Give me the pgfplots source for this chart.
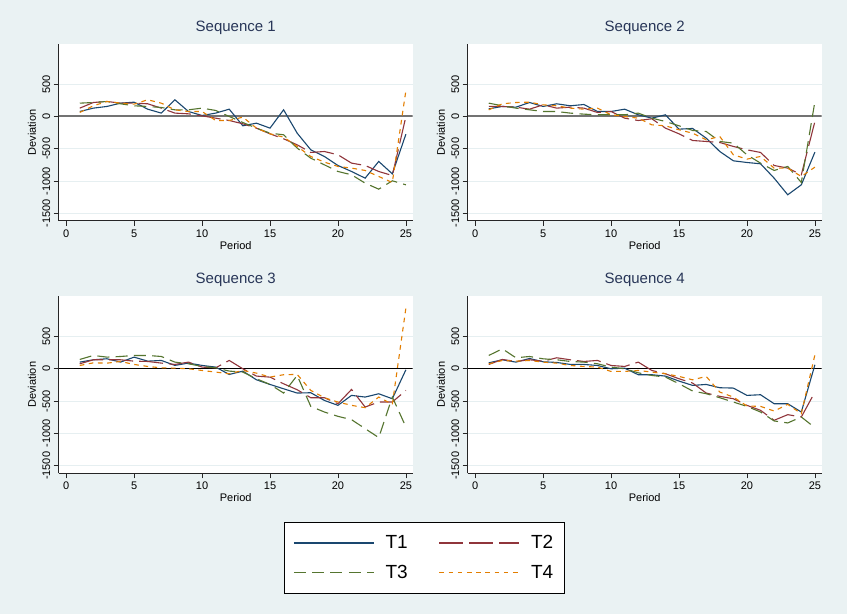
\documentclass[border=0pt]{standalone}
\usepackage{fontspec}
\setmainfont{Liberation Sans}
\usepackage{pgfplots}
\usepackage{pgfplotstable}
\pgfplotsset{compat=1.18}
\definecolor{bg}{HTML}{EAF2F3}
\definecolor{gridc}{HTML}{E6EFF1}
\definecolor{titlec}{HTML}{283658}
\definecolor{cT1}{HTML}{1A476F}
\definecolor{cT2}{HTML}{90353B}
\definecolor{cT3}{HTML}{55752F}
\definecolor{cT4}{HTML}{E37E00}

\pgfplotstableread{
p t1 t2 t3 t4
1 77 129 206 62
2 129 216 216 165
3 155 232 232 232
4 206 206 196 206
5 221 206 165 191
6 113 196 155 258
7 52 129 139 206
8 258 52 103 103
9 77 41 103 77
10 15 10 129 77
11 52 -26 93 -62
12 113 -62 0 -62
13 -144 -113 -93 -10
14 -103 -180 -180 -180
15 -180 -268 -258 -268
16 103 -345 -283 -319
17 -258 -438 -489 -463
18 -515 -556 -644 -618
19 -618 -541 -747 -705
20 -757 -592 -850 -772
21 -850 -721 -901 -798
22 -953 -757 -1030 -834
23 -695 -850 -1123 -927
24 -886 -912 -994 -1020
25 -273 0 -1056 402
}\seqA

\pgfplotstableread{
p t1 t2 t3 t4
1 118 155 206 103
2 155 155 165 196
3 144 144 129 216
4 216 113 103 221
5 155 180 77 180
6 196 129 77 165
7 165 144 52 129
8 185 129 36 113
9 77 62 26 129
10 77 77 26 26
11 113 -26 26 0
12 26 -62 52 -26
13 -26 -36 -26 -129
14 26 -180 -77 -144
15 -196 -268 -144 -206
16 -185 -371 -216 -258
17 -335 -386 -232 -360
18 -541 -402 -386 -309
19 -685 -463 -412 -592
20 -711 -515 -592 -659
21 -731 -556 -721 -618
22 -953 -757 -834 -798
23 -1210 -798 -772 -798
24 -1056 -901 -1020 -927
25 -551 -77 232 -783
}\seqB

\pgfplotstableread{
p t1 t2 t3 t4
1 103 77 144 51
2 139 139 206 92
3 155 139 180 87
4 103 139 190 113
5 180 118 206 67
6 118 113 206 36
7 129 88 190 15
8 52 67 103 10
9 88 103 77 0
10 52 26 36 -26
11 26 15 15 -51
12 -88 129 -36 -77
13 -36 0 -51 -26
14 -170 -113 -154 -67
15 -242 -129 -242 -128
16 -309 -232 -375 -92
17 -375 -324 -103 -87
18 -370 -447 -581 -334
19 -489 -447 -668 -447
20 -565 -540 -735 -514
21 -411 -319 -786 -565
22 -437 -591 -925 -601
23 -386 -514 -1063 -437
24 -463 -514 -437 -550
25 -15 -334 -899 940
}\seqC

\pgfplotstableread{
p t1 t2 t3 t4
1 92 67 206 77
2 139 144 308 128
3 103 113 170 118
4 159 139 190 128
5 108 118 154 103
6 98 170 139 87
7 67 139 113 51
8 67 113 103 36
9 51 129 77 26
10 0 51 26 -41
11 10 36 0 -41
12 -92 103 -62 -26
13 -92 -26 -103 -51
14 -113 -77 -128 -77
15 -190 -154 -231 -118
16 -257 -221 -344 -170
17 -242 -375 -385 -118
18 -293 -426 -447 -360
19 -298 -463 -514 -437
20 -411 -565 -581 -575
21 -401 -642 -668 -581
22 -540 -796 -806 -653
23 -540 -709 -837 -550
24 -668 -745 -745 -694
25 62 -360 -910 216
}\seqD

\pgfplotsset{
  seqaxis/.style={
    width=354pt, height=177pt, scale only axis,
    xmin=-0.55, xmax=25.5, ymin=-1615, ymax=1120,
    axis x line*=bottom, axis y line*=left,
    xtick={0,5,...,25}, ytick={-1500,-1000,-500,0,500},
    tick align=outside, major tick length=5pt,
    ymajorgrids, grid style={color=gridc, line width=1pt},
    axis line style={color=black!85, line width=1pt},
    every tick/.style={color=black!85, line width=0.8pt},
    ticklabel style={font=\fontsize{11}{11}\selectfont},
    yticklabel style={rotate=90, anchor=south},
    /pgf/number format/assume math mode=true,
    /pgf/number format/set thousands separator={},
    xlabel={Period}, ylabel={Deviation},
    label style={font=\fontsize{11}{11}\selectfont},
    xlabel style={at={(axis description cs:0.5,-0.1395)}, anchor=center},
    ylabel style={at={(axis description cs:-0.0754,0.5)}, anchor=center},
    title style={font=\fontsize{15}{15}\selectfont, color=titlec, at={(0.5,1)}, anchor=south, yshift=0pt},
    axis background/.style={fill=white},
    every axis plot/.append style={line width=1.1pt},
  },
  sT1/.style={color=cT1, solid},
  sT2/.style={color=cT2, dash pattern=on 24pt off 6pt},
  sT3/.style={color=cT3, dash pattern=on 12pt off 6.3pt},
  sT4/.style={color=cT4, dash pattern=on 4.7pt off 4.5pt},
}

\newcommand{\seqplots}[1]{%
  \addplot[sT1] table[x=p,y=t1] {#1};
  \addplot[sT2] table[x=p,y=t2] {#1};
  \addplot[sT3] table[x=p,y=t3] {#1};
  \addplot[sT4] table[x=p,y=t4] {#1};
}

\begin{document}
\begin{tikzpicture}[x=1pt,y=1pt]
\fill[bg] (0,0) rectangle (847,614);
\useasboundingbox (0,0) rectangle (847,614);

\begin{axis}[seqaxis, at={(58.7pt,393pt)}, anchor=south west, title={Sequence 1}]
\addplot[forget plot, color=black!55, line width=2pt] coordinates {(-0.55,0) (25.5,0)};
\seqplots{\seqA}
\end{axis}

\begin{axis}[seqaxis, at={(467.7pt,393pt)}, anchor=south west, title={Sequence 2}]
\addplot[forget plot, color=black!55, line width=2pt] coordinates {(-0.55,0) (25.5,0)};
\seqplots{\seqB}
\end{axis}

\begin{axis}[seqaxis, at={(58.7pt,140.7pt)}, anchor=south west, title={Sequence 3},
  legend columns=2, legend cell align=left,
  legend image code/.code={\draw[#1, line width=1.3pt] (0pt,0pt) -- (80pt,0pt);},
  legend style={at={(1.0325,-0.478)}, anchor=center, draw=black, line width=0.8pt, fill=white,
    font=\fontsize{19}{19}\selectfont, inner xsep=9pt, inner ysep=11pt, row sep=11pt,
    nodes={inner sep=2pt},
    /tikz/every odd column/.append style={column sep=9pt},
    /tikz/every even column/.append style={column sep=29pt}},
]
\addplot[forget plot, color=black, line width=1pt] coordinates {(-0.55,0) (25.5,0)};
\seqplots{\seqC}
\legend{T1,T2,T3,T4}
\end{axis}

\begin{axis}[seqaxis, at={(467.7pt,140.7pt)}, anchor=south west, title={Sequence 4}]
\addplot[forget plot, color=black, line width=1pt] coordinates {(-0.55,0) (25.5,0)};
\seqplots{\seqD}
\end{axis}
\end{tikzpicture}
\end{document}
